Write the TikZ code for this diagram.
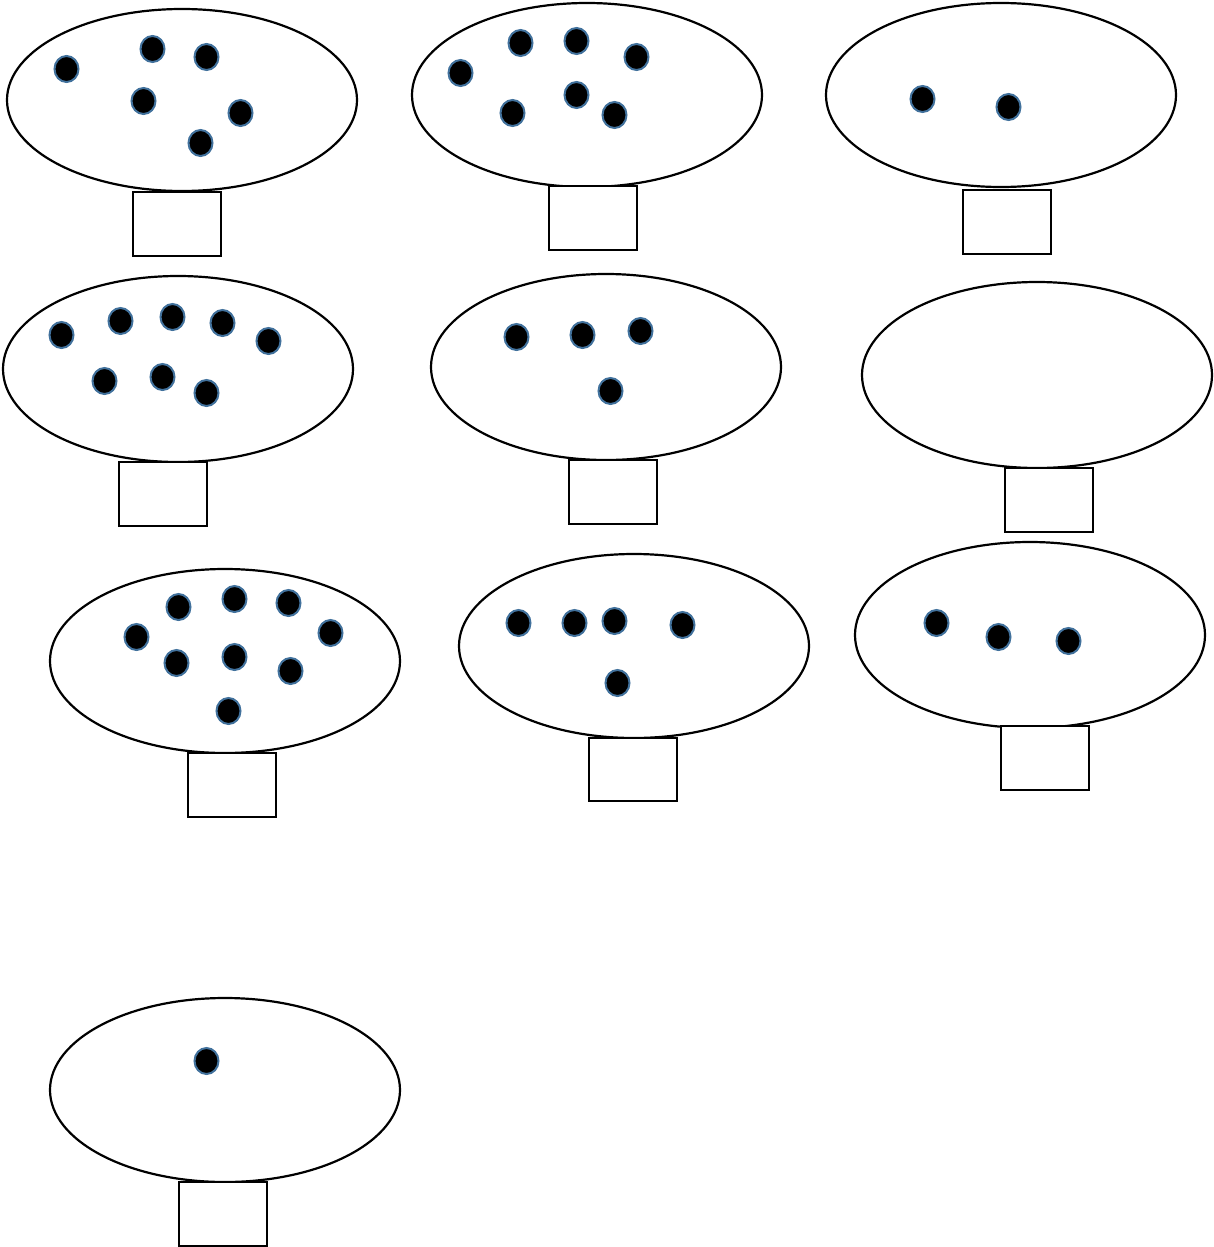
\documentclass[tikz,border=0pt]{standalone}
\definecolor{dotedge}{HTML}{41719C}
\tikzset{
  crown/.style={draw=black, line width=2.2pt, fill=white},
  trunk/.style={draw=black, line width=2.2pt, fill=white},
  fruit/.style={draw=dotedge, line width=2pt, fill=black}
}
\newcommand{\tree}[6]{%
  % #1,#2 ellipse centre; #3 ry; #4,#5 trunk left/top; #6 trunk bottom
  \draw[crown] (#1,#2) ellipse [x radius=175, y radius=#3];
  \draw[trunk] (#4,#5) rectangle ++(88,#6);
}
\newcommand{\fruits}[1]{%
  \foreach \fx/\fy in {#1} {\draw[fruit] (\fx+0.5,\fy) ellipse [x radius=12, y radius=13];}
}
\begin{document}
\begin{tikzpicture}[x=1pt,y=-1pt]
\useasboundingbox (0,0) rectangle (1213,1247);
% tree 1
\tree{182}{100}{91}{133}{192}{64}
\fruits{66/69,152/49,206/57,143/101,240/113,200/143}
% tree 2
\tree{587}{95}{92}{549}{186}{64}
\fruits{460/73,520/43,576/41,636/57,512/113,576/95,614/115}
% tree 3
\tree{1001}{95}{92}{963}{190}{64}
\fruits{922/99,1008/107}
% tree 4
\tree{178}{369}{93}{119}{462}{64}
\fruits{61/335,120/321,172/317,222/323,268/341,104/381,162/377,206/393}
% tree 5
\tree{606}{367}{93}{569}{460}{64}
\fruits{516/337,582/335,640/331,610/391}
% tree 6
\tree{1037}{375}{93}{1005}{468}{64}
% tree 7
\tree{225}{661}{92}{188}{753}{64}
\fruits{136/637,178/607,234/599,288/603,330/633,176/663,234/657,290/671,228/711}
% tree 8
\tree{634}{646}{92}{589}{738}{63}
\fruits{518/623,574/623,614/621,682/625,617/683}
% tree 9
\tree{1030}{635}{93}{1001}{726}{64}
\fruits{936/623,998/637,1068/641}
% tree 10
\tree{225}{1090}{92}{179}{1182}{64}
\fruits{206/1061}
\end{tikzpicture}
\end{document}
